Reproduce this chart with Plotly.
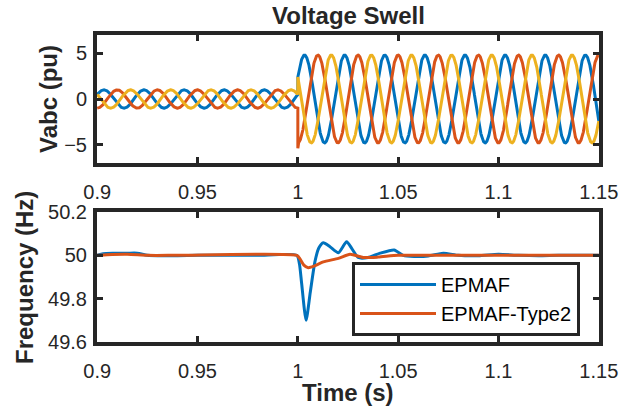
import numpy as np
import plotly.graph_objects as go

# ---------------- data ----------------
t_start, t_swell, t_end = 0.9, 1.0, 1.15
freq_hz = 50.0
amp_pre = 1.0          # pu before swell
amp_post = 4.8         # pu after swell
phase_names = ["Va", "Vb", "Vc"]
phase_deg = [30.0, -90.0, -210.0]     # phase angle of each phase (sin reference)
phase_colors = ["#0072BD", "#D95319", "#EDB120"]
transient_value = [None, -5.4, None]  # overshoot right at the swell instant

# frequency estimates
epmaf_t = [0.9, 0.903, 0.908, 0.915, 0.92, 0.925, 0.93, 0.94, 0.95, 0.96, 0.98, 0.9995,
           1.0008, 1.0019, 1.0041, 1.0062, 1.0085, 1.0105, 1.0127, 1.016, 1.0202, 1.0243,
           1.027, 1.0301, 1.035, 1.041, 1.048, 1.0525, 1.058, 1.065, 1.0725, 1.08, 1.09,
           1.1, 1.11, 1.12, 1.13, 1.15]
epmaf_f = [50.0, 50.008, 50.01, 50.01, 50.01, 50.0, 49.998, 49.998, 50.0, 50.0, 50.0, 50.0,
           49.96, 49.87, 49.70, 49.83, 49.97, 50.035, 50.058, 50.04, 50.012, 50.063,
           50.03, 49.99, 49.99, 50.01, 50.025, 50.0, 49.995, 49.997, 50.01, 50.0, 49.998,
           50.005, 50.0, 49.998, 50.0, 50.0]
type2_t = [0.9, 0.905, 0.915, 0.925, 0.94, 0.9995, 1.001, 1.003, 1.0052, 1.008, 1.0127,
           1.0202, 1.026, 1.0326, 1.04, 1.05, 1.07, 1.1, 1.15]
type2_f = [50.0, 50.003, 50.005, 50.0, 50.0, 50.0, 49.985, 49.955, 49.943, 49.95, 49.97,
           49.986, 50.005, 49.99, 49.992, 50.0, 50.0, 50.0, 50.0]

x_ticks = [0.9, 0.95, 1.0, 1.05, 1.1, 1.15]
v_ticks = [-5, 0, 5]
f_ticks = [49.6, 49.8, 50.0, 50.2]

# ---------------- figure ----------------
W, H = 631, 413
ML, MR, MT, MB = 97, 32, 35, 71
TXT = "#262626"
FONT = "Liberation Sans, Arial, sans-serif"

fig = go.Figure()

t_pre = np.linspace(t_start, t_swell, 1201)
t_post = np.linspace(t_swell, t_end, 1801)
w = 2 * np.pi * freq_hz
for name, ph, col, tr in zip(phase_names, phase_deg, phase_colors, transient_value):
    p = np.deg2rad(ph)
    v_pre = amp_pre * np.sin(w * t_pre + p)
    v_post = amp_post * np.sin(w * t_post + p)
    tt = list(t_pre) + list(t_post)
    vv = list(v_pre) + list(v_post)
    if tr is not None:
        tt = list(t_pre) + [t_swell] + list(t_post[1:])
        vv = list(v_pre) + [tr] + list(v_post[1:])
    fig.add_trace(go.Scatter(x=tt, y=vv, mode="lines", name=name,
                             line=dict(color=col, width=3), showlegend=False,
                             xaxis="x", yaxis="y"))

fig.add_trace(go.Scatter(x=epmaf_t, y=epmaf_f, mode="lines", name="EPMAF",
                         line=dict(color="#0072BD", width=3, shape="spline", smoothing=0.6),
                         xaxis="x2", yaxis="y2"))
fig.add_trace(go.Scatter(x=type2_t, y=type2_f, mode="lines", name="EPMAF-Type2",
                         line=dict(color="#D95319", width=3, shape="spline", smoothing=0.6),
                         xaxis="x2", yaxis="y2"))

axis_common = dict(showline=True, linewidth=4, linecolor=TXT, mirror="ticks",
                   ticks="inside", ticklen=6, tickwidth=3, tickcolor=TXT,
                   showgrid=False, zeroline=False,
                   tickfont=dict(family=FONT, size=20, color=TXT))

plot_h = H - MT - MB
def py(y_px):          # y pixel in the reference image -> paper fraction
    return (H - MB - y_px) / plot_h
def px(x_px):
    return (x_px - ML) / (W - ML - MR)

fig.update_layout(
    width=W, height=H,
    margin=dict(l=ML, r=MR, t=MT, b=MB),
    paper_bgcolor="white", plot_bgcolor="white",
    xaxis=dict(domain=[0, 1], anchor="y", range=[0.8999, 1.1501], tickvals=x_ticks,
               ticklabelstandoff=8, **axis_common),
    yaxis=dict(domain=[py(163), 1], anchor="x", range=[-7, 7], tickvals=v_ticks,
               ticklabelstandoff=2, **axis_common),
    xaxis2=dict(domain=[0, 1], anchor="y2", range=[0.8999, 1.1501], tickvals=x_ticks,
                ticklabelstandoff=8, **axis_common),
    yaxis2=dict(domain=[0, py(212)], anchor="x2", range=[49.5999, 50.2001], tickvals=f_ticks,
                ticklabelstandoff=2, **axis_common),
    legend=dict(x=px(352), y=py(262), xanchor="left", yanchor="top",
                bgcolor="white", bordercolor=TXT, borderwidth=3,
                font=dict(family=FONT, size=20, color="black"),
                itemwidth=76, tracegroupgap=0),
    showlegend=True,
)

lab_font = dict(family=FONT, size=24, color=TXT, weight="bold")
fig.add_annotation(text="Voltage Swell", xref="paper", yref="paper", x=0.5, y=py(16),
                   xanchor="center", yanchor="middle", showarrow=False, font=lab_font)
fig.add_annotation(text="Vabc (pu)", xref="paper", yref="paper", x=px(48), y=py(99),
                   xanchor="center", yanchor="middle", textangle=-90, showarrow=False,
                   font=lab_font)
fig.add_annotation(text="Frequency (Hz)", xref="paper", yref="paper", x=px(24), y=py(278),
                   xanchor="center", yanchor="middle", textangle=-90, showarrow=False,
                   font=lab_font)
fig.add_annotation(text="Time (s)", xref="paper", yref="paper", x=0.5, y=py(392),
                   xanchor="center", yanchor="middle", showarrow=False, font=lab_font)

fig.write_html("out.html", config={"displayModeBar": False},
               post_script="document.body.style.margin='0px';document.body.style.overflow='hidden';")
